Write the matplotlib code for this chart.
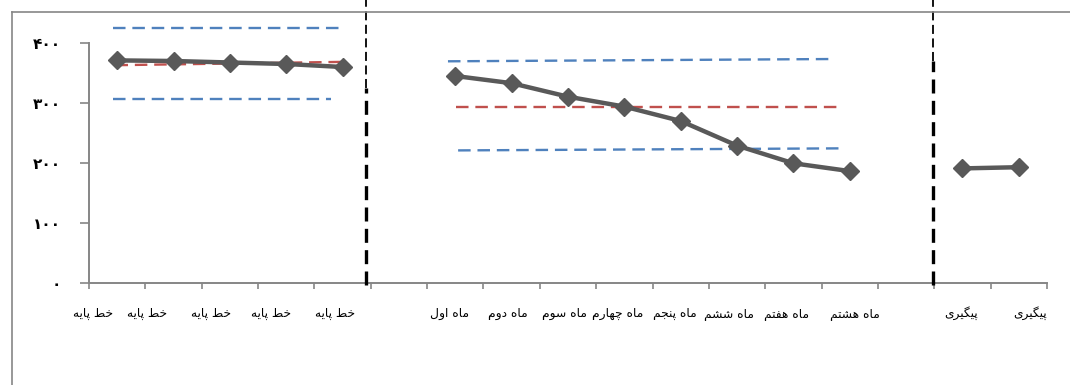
import matplotlib
matplotlib.use("Agg")
import matplotlib.pyplot as plt
from matplotlib.lines import Line2D
import numpy as np

# ---- data -------------------------------------------------------------
baseline_labels = ["خط پایه"] * 5
month_labels = ["ماه اول", "ماه دوم", "ماه سوم", "ماه چهارم",
                "ماه پنجم", "ماه ششم", "ماه هفتم", "ماه هشتم"]
followup_labels = ["پیگیری", "پیگیری"]

baseline_values = [371, 370, 367.5, 365, 360]
treatment_values = [345, 333, 310.5, 294, 270, 229, 199.5, 186.5]
followup_values = [191, 193]

# reference bands (start level, end level)
baseline_upper = (424.5, 424.5)
baseline_mean = (363, 368.5)
baseline_lower = (307, 307)
treatment_upper = (369.5, 373.3)
treatment_mean = (293.3, 293.3)
treatment_lower = (221, 224.4)

y_ticks = [0, 100, 200, 300, 400]

# horizontal nudges (pixels) for the category captions
label_nudge = [-24, -26, -19, -15, -8, 0,
               -6, -4, -4, -7, -6, -8, -7, 5, 0,
               -1, 11]

# ---- Persian text shaping (contextual forms, visual order) -------------
FORMS = {  # isolated, final, initial, medial
    "ا": ("\uFE8D", "\uFE8E", None, None),
    "پ": ("\uFB56", "\uFB57", "\uFB58", "\uFB59"),
    "ت": ("\uFE95", "\uFE96", "\uFE97", "\uFE98"),
    "ج": ("\uFE9D", "\uFE9E", "\uFE9F", "\uFEA0"),
    "چ": ("\uFB7A", "\uFB7B", "\uFB7C", "\uFB7D"),
    "خ": ("\uFEA5", "\uFEA6", "\uFEA7", "\uFEA8"),
    "د": ("\uFEA9", "\uFEAA", None, None),
    "ر": ("\uFEAD", "\uFEAE", None, None),
    "س": ("\uFEB1", "\uFEB2", "\uFEB3", "\uFEB4"),
    "ش": ("\uFEB5", "\uFEB6", "\uFEB7", "\uFEB8"),
    "ط": ("\uFEC1", "\uFEC2", "\uFEC3", "\uFEC4"),
    "ف": ("\uFED1", "\uFED2", "\uFED3", "\uFED4"),
    "گ": ("\uFB92", "\uFB93", "\uFB94", "\uFB95"),
    "ل": ("\uFEDD", "\uFEDE", "\uFEDF", "\uFEE0"),
    "م": ("\uFEE1", "\uFEE2", "\uFEE3", "\uFEE4"),
    "ن": ("\uFEE5", "\uFEE6", "\uFEE7", "\uFEE8"),
    "ه": ("\uFEE9", "\uFEEA", "\uFEEB", "\uFEEC"),
    "و": ("\uFEED", "\uFEEE", None, None),
    "ی": ("\uFBFC", "\uFBFD", "\uFBFE", "\uFBFF"),
}


def dual(ch):
    return ch in FORMS and FORMS[ch][2] is not None


def shape(text):
    out = []
    for i, ch in enumerate(text):
        if ch not in FORMS:
            out.append(ch)
            continue
        prev = text[i - 1] if i > 0 else ""
        nxt = text[i + 1] if i + 1 < len(text) else ""
        join_prev = dual(prev)
        join_next = dual(ch) and nxt in FORMS
        iso, fin, ini, med = FORMS[ch]
        if join_prev and join_next:
            out.append(med)
        elif join_prev:
            out.append(fin)
        elif join_next:
            out.append(ini)
        else:
            out.append(iso)
    return "".join(out)[::-1]


def fa_digits(n):
    return str(n).translate(str.maketrans("0123456789", "۰۱۲۳۴۵۶۷۸۹"))


# ---- layout of categories ---------------------------------------------
labels = baseline_labels + [""] + month_labels + [""] + followup_labels
n_cat = len(labels)
x_base = np.arange(len(baseline_values))
x_treat = np.arange(len(treatment_values)) + len(baseline_labels) + 1
x_follow = np.arange(len(followup_values)) + len(baseline_labels) + len(month_labels) + 2

DPI = 100
fig = plt.figure(figsize=(10.7, 3.85), dpi=DPI)
ax = fig.add_axes([89 / 1070, 102 / 385, 958 / 1070, 240 / 385])

GRAY = "#868686"
SERIES = "#595959"
BLUE = "#4F81BD"
RED = "#C0504D"

# band lines
band_kw = dict(lw=1.7, dashes=(5.3, 2.9), clip_on=False, zorder=2)
ax.plot([-0.07, 3.94], baseline_upper, color=BLUE, **band_kw)
ax.plot([-0.07, 3.80], baseline_lower, color=BLUE, **band_kw)
ax.plot([-0.03, 3.97], baseline_mean, color=RED, **band_kw)
ax.plot([5.87, 12.71], treatment_upper, color=BLUE, **band_kw)
ax.plot([6.01, 12.78], treatment_mean, color=RED, **band_kw)
ax.plot([6.05, 12.83], treatment_lower, color=BLUE, **band_kw)

# data series
line_kw = dict(color=SERIES, lw=3.2, marker="D", ms=9.5, mfc=SERIES,
               mec=SERIES, mew=1, zorder=3, clip_on=False)
ax.plot(x_base, baseline_values, **line_kw)
ax.plot(x_treat, treatment_values, **line_kw)
ax.plot(x_follow, followup_values, **line_kw)

# phase separators
for xs, y_join in ((4.42, 325), (14.48, 370)):
    ax.plot([xs - 0.005, xs - 0.005], [y_join, 472], color="black", lw=1.3,
            dashes=(5, 2.5), clip_on=False, zorder=4)
    ax.plot([xs, xs], [-3, y_join], color="black", lw=2.4,
            dashes=(4.2, 2.2), clip_on=False, zorder=4)

ax.set_xlim(-0.5, n_cat - 0.5)
ax.set_ylim(0, 400)

for side in ("top", "right"):
    ax.spines[side].set_visible(False)
for side in ("left", "bottom"):
    ax.spines[side].set_color(GRAY)
    ax.spines[side].set_linewidth(1.4)

ax.set_yticks(y_ticks)
ax.set_yticklabels([fa_digits(v) for v in y_ticks], fontsize=11,
                   fontweight="bold", family="DejaVu Sans")
ax.tick_params(axis="y", length=6.5, width=1.2, color=GRAY, pad=14)

ax.set_xticks(np.arange(n_cat + 1) - 0.5)
ax.set_xticklabels([])
ax.tick_params(axis="x", length=4.5, width=1.2, color=GRAY)

# category captions
for i, (txt, dx) in enumerate(zip(labels, label_nudge)):
    if not txt:
        continue
    ax.annotate(shape(txt), xy=(i, 0), xycoords=("data", "axes fraction"),
                xytext=(dx * 72 / DPI, -22), textcoords="offset points",
                ha="center", va="center", fontsize=8.8, family="DejaVu Sans")

# chart frame
fig.add_artist(Line2D([12 / 1070, 1.0], [1 - 12 / 385, 1 - 12 / 385],
                      color=GRAY, lw=1.2))
fig.add_artist(Line2D([12 / 1070, 12 / 1070], [0, 1 - 12 / 385],
                      color=GRAY, lw=1.2))

fig.savefig("out.png", dpi=DPI)
